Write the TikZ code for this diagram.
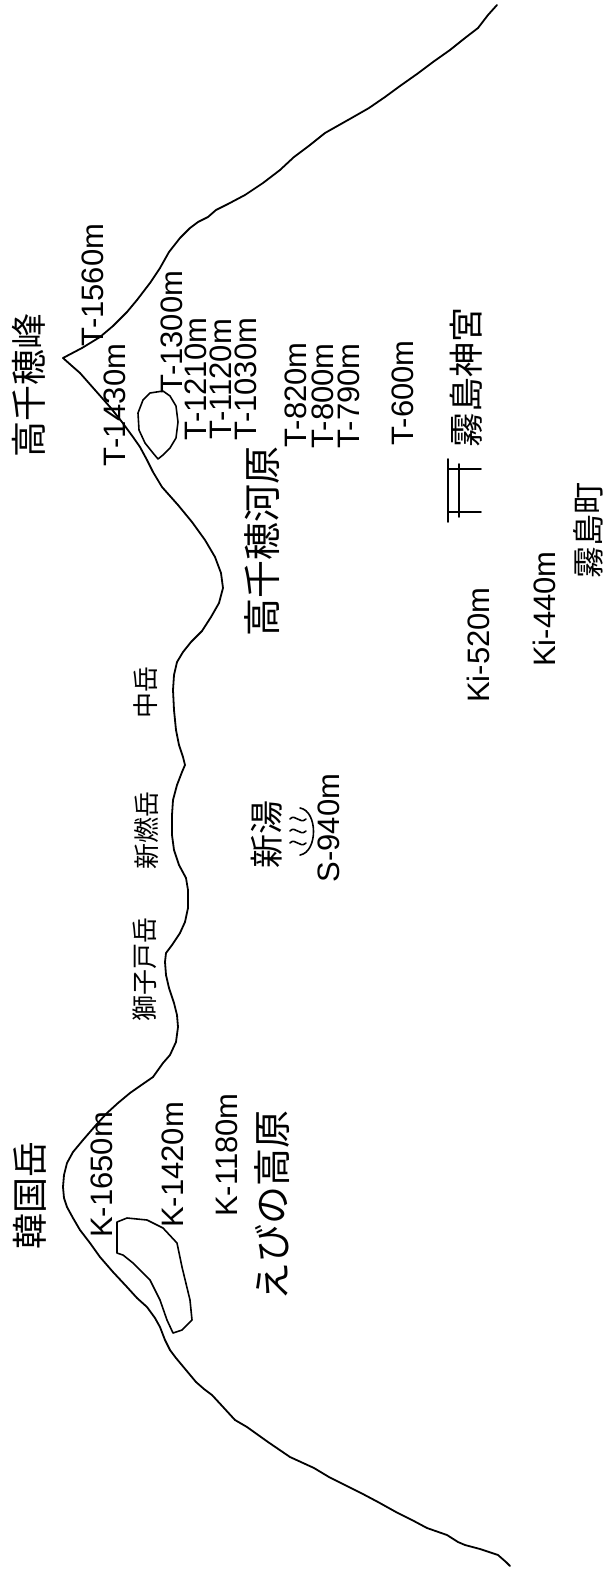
\documentclass[tikz,border=0pt]{standalone}
\usepackage{fontspec}
\setmainfont{Liberation Sans}
\newfontfamily\jpfont{Noto Sans CJK JP}
\usepackage{tikz}

\tikzset{
  ridge/.style={line width=1.8pt,line join=round,line cap=round},
  crater/.style={line width=1.6pt,line join=round,line cap=round},
  hgt/.style={rotate=90,inner sep=0pt,font=\fontsize{31}{31}\selectfont},
  jplabel/.style={rotate=90,inner sep=0pt,font=\jpfont\fontsize{#1}{#1}\selectfont},
}

\begin{document}
\begin{tikzpicture}[x=1pt,y=-1pt]
  \useasboundingbox (0,0) rectangle (608,1570);

  % ridge profile, Takachiho-no-mine to Karakuni-dake
  \draw[ridge] plot coordinates {
    (497,5) (488,15) (478,28) (465,38) (450,50) (433,62) (417,74) (400,86)
    (385,97) (369,108) (348,120) (325,133) (310,145) (294,157) (280,170)
    (263,183) (245,195) (228,204) (216,210) (208,217) (198,222) (190,228)
    (180,238) (169,252) (160,268) (150,283) (137,300) (127,312) (113,326)
    (100,337) (82,348) (63,358) (72,366) (80,373) (95,390) (110,407)
    (122,422) (133,437) (140,447) (147,460) (153,472) (162,487) (178,505)
    (192,522) (205,540) (215,557) (221,573) (223,588) (219,603) (211,617)
    (202,631) (191,642) (183,652) (177,662) (174,675) (173,690) (174,710)
    (176,730) (179,745) (183,757) (185,765) (182,772) (177,785) (173,800)
    (172,815) (172,835) (174,850) (179,865) (186,878) (188,890) (188,908)
    (185,922) (180,933) (172,945) (166,953) (165,962) (166,975) (169,988)
    (174,1003) (177,1015) (178,1027) (176,1042) (170,1055) (163,1063)
    (153,1077) (140,1086) (130,1093) (118,1103) (107,1113) (96,1125)
    (83,1140) (73,1152) (67,1163) (64,1175) (63,1187) (64,1198) (67,1207)
    (73,1218) (80,1230) (90,1243) (100,1257) (113,1272) (127,1287)
    (137,1298) (147,1307) (155,1318) (160,1327) (165,1340) (170,1350)
    (176,1358) (186,1370) (196,1382) (204,1389) (212,1395) (224,1408)
    (235,1420) (247,1427) (268,1442) (290,1457) (314,1468) (329,1477)
    (345,1485) (361,1493) (378,1502) (396,1512) (412,1520) (427,1528)
    (447,1535) (458,1542) (465,1545) (480,1549) (498,1555) (506,1562)
    (510,1566)};

  % crater lakes
  \draw[crater] plot coordinates {
    (163,391) (150,393) (143,400) (138,413) (139,430) (145,443) (153,453)
    (158,459) (163,455) (170,448) (176,438) (178,422) (176,406) (170,396)
    (163,391)};
  \draw[crater] plot coordinates {
    (117,1222) (127,1218) (147,1220) (163,1228) (177,1243) (182,1267)
    (190,1300) (192,1320) (182,1330) (173,1333) (167,1320) (160,1300)
    (150,1280) (133,1263) (123,1255) (117,1253) (117,1233) (117,1222)};

  % shrine gate
  \draw[crater] (448,459) -- (448,522);
  \draw[crater] (459,464) -- (459,517);
  \draw[crater] (448,469) -- (481,469);
  \draw[crater] (448,512) -- (481,512);

  % hot spring mark
  \draw[crater] (300,808) .. controls (318,811) and (318,852) .. (300,855);
  \foreach \yy in {819,831,843}
    \draw[crater] (290,\yy) .. controls (295,\yy-6) and (300,\yy+6) .. (306,\yy);

  % spot heights
  \foreach \n/\x/\y/\t in {t1560/93/285/T-1560m,t1430/115/405/T-1430m,
                          t1300/172/332/T-1300m,t1210/196/379/T-1210m,
                          t1120/221/379/T-1120m,t1030/246/379/T-1030m,
                          t820/296/395/T-820m,t800/323/396/T-800m,
                          t790/349/396/T-790m,t600/403/393/T-600m,
                          s940/329/828/S-940m,k1650/102/1175/K-1650m,
                          k1420/173/1165/K-1420m,k1180/227/1155/K-1180m,
                          ki520/478/645/Ki-520m,ki440/544/609/Ki-440m} {
    \node[hgt] (\n) at (\x,\y) {\t};
  }

  % place names
  \node[jplabel=36] (takachiho) at (29,385) {高千穂峰};
  \node[jplabel=38] (gawara) at (262,541) {高千穂河原};
  \node[jplabel=35] (jingu) at (466,377) {霧島神宮};
  \node[jplabel=32] (town) at (588,530) {霧島町};
  \node[jplabel=26] (nakadake) at (146,692) {中岳};
  \node[jplabel=26] (shinmoe) at (147,830) {新燃岳};
  \node[jplabel=26] (shishiko) at (145,969) {獅子戸岳};
  \node[jplabel=34] (shinyu) at (267,834) {新湯};
  \node[jplabel=38] (ebino) at (272,1205) {えびの高原};
  \node[jplabel=36] (karakuni) at (30,1195) {韓国岳};
\end{tikzpicture}
\end{document}
